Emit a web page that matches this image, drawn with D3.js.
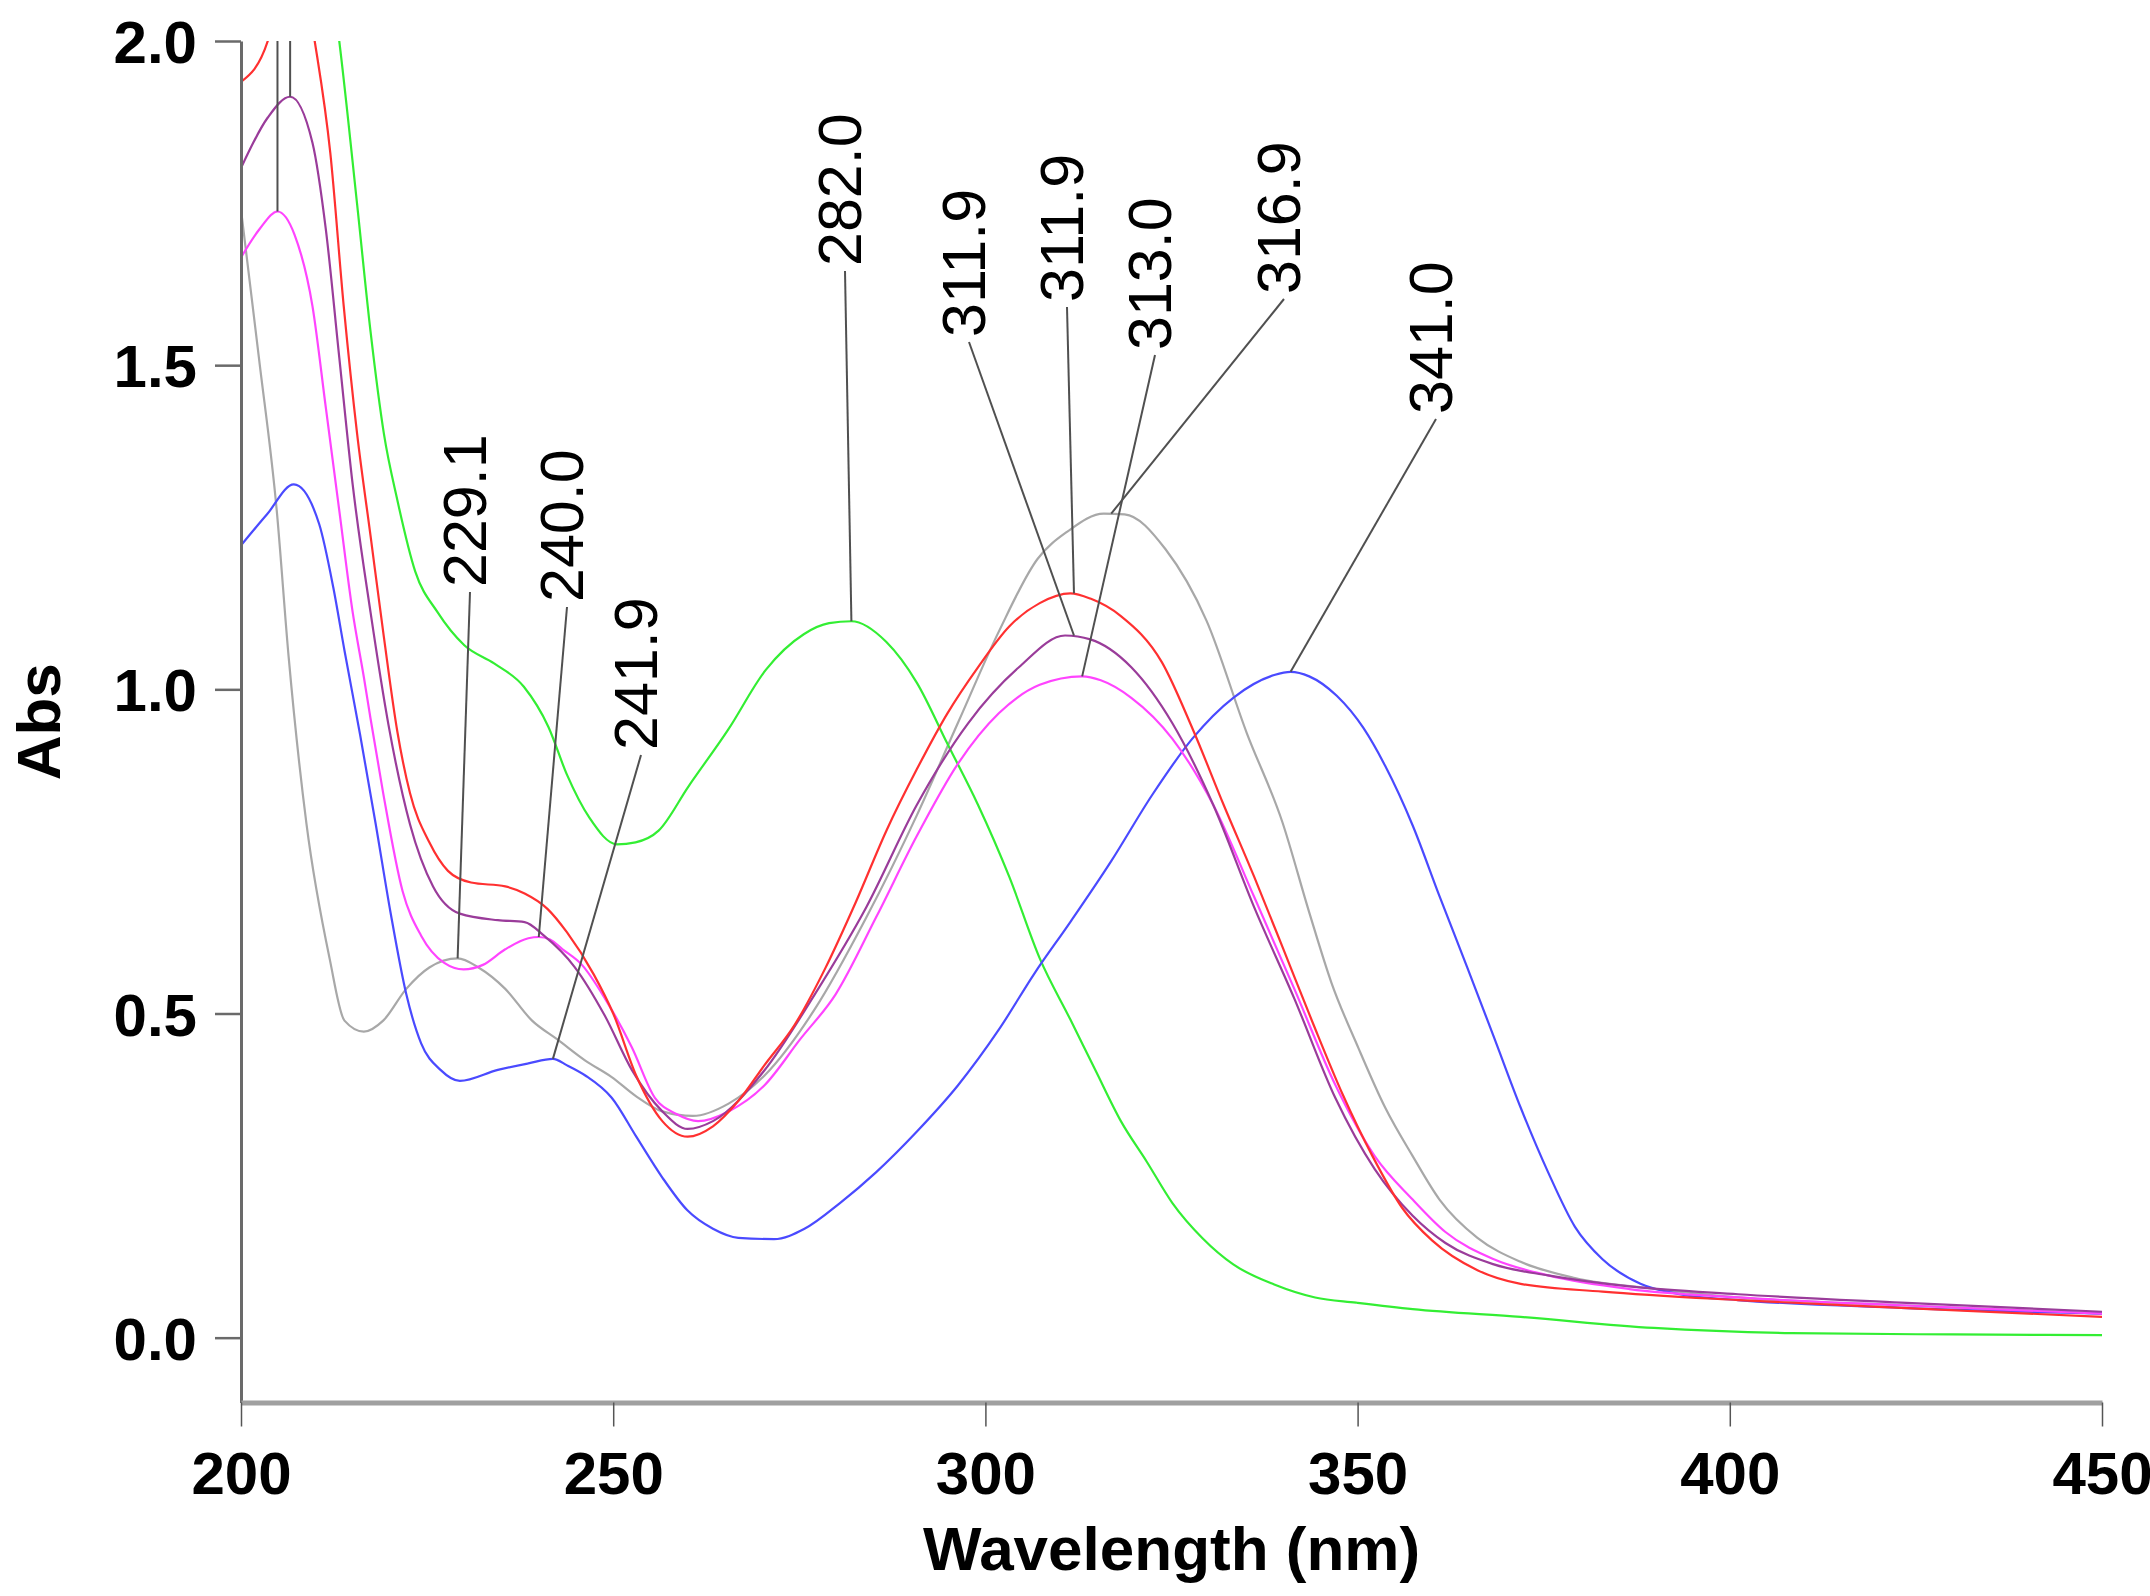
<!DOCTYPE html>
<html>
<head>
<meta charset="utf-8">
<script src="https://cdn.jsdelivr.net/npm/d3@7/dist/d3.min.js"></script>
<style>
body { margin: 0; background: #fff; }
svg { display: block; font-family: "Liberation Sans", Arial, sans-serif; }
.axis text { font-weight: bold; font-size: 60px; fill: #000; }
.title { font-weight: bold; font-size: 62px; fill: #000; }
.peak { font-size: 61px; fill: #000; }
</style>
</head>
<body>
<script>
// wavelength (nm) / absorbance pairs
var grayNm  = [200, 202.4, 204.8, 206.4, 208.8, 211.9, 213.9, 216.5, 219.1, 222.2, 225.3, 229.1, 231.9, 235.5, 239.1, 242.5, 246.3, 249.8, 253.0, 256.6, 260.7, 265.5, 270.3, 277.1, 284.0, 290.8, 296.3, 301.8, 307.0, 311.1, 315.9, 318.7, 324.2, 329.7, 335.1, 339.9, 343.5, 346.5, 350.1, 353.7, 357.4, 361.0, 366.1, 371.9, 379.2, 390.2, 401.1, 423.0, 450];
var grayAbs = [1.74, 1.512, 1.276, 1.05, 0.792, 0.585, 0.489, 0.472, 0.489, 0.538, 0.571, 0.585, 0.571, 0.538, 0.489, 0.460, 0.427, 0.402, 0.373, 0.349, 0.342, 0.361, 0.404, 0.507, 0.648, 0.806, 0.948, 1.089, 1.201, 1.244, 1.271, 1.270, 1.216, 1.106, 0.933, 0.795, 0.656, 0.547, 0.447, 0.355, 0.280, 0.213, 0.154, 0.117, 0.092, 0.075, 0.062, 0.050, 0.037];

var greenNm  = [200, 206, 210, 213.2, 215.6, 217.4, 219.2, 221.0, 223.4, 226.4, 230.0, 234.0, 238.0, 241.3, 243.8, 246.8, 250.5, 253.0, 256.1, 260.1, 265.4, 270.5, 275.6, 279.0, 282.0, 286.7, 290.8, 294.9, 299.0, 303.2, 307.3, 311.4, 314.8, 318.2, 321.7, 325.1, 329.2, 333.3, 338.8, 344.3, 349.8, 357.4, 371.9, 389.8, 408.3, 430.0, 450];
var greenAbs = [2.9, 2.55, 2.25, 2.0, 1.748, 1.552, 1.394, 1.292, 1.182, 1.119, 1.068, 1.040, 1.004, 0.942, 0.868, 0.802, 0.761, 0.764, 0.782, 0.850, 0.937, 1.030, 1.085, 1.102, 1.105, 1.073, 1.010, 0.916, 0.822, 0.711, 0.585, 0.491, 0.412, 0.334, 0.271, 0.208, 0.153, 0.113, 0.082, 0.062, 0.054, 0.044, 0.032, 0.015, 0.007, 0.005, 0.004];

var blueNm  = [200, 203.5, 207.1, 210.5, 212.4, 213.9, 216.0, 218.1, 220.1, 222.2, 224.2, 226.8, 229.4, 234.5, 238.6, 241.9, 243.8, 246.3, 249.8, 253.1, 256.6, 260.0, 263.4, 266.8, 271.6, 275.7, 280.5, 285.3, 290.8, 296.3, 301.8, 306.6, 311.4, 316.9, 322.4, 327.8, 333.3, 338.8, 341.0, 343.5, 347.2, 350.8, 353.7, 357.4, 361.0, 364.7, 368.3, 371.9, 375.6, 379.2, 382.9, 388.0, 393.8, 401.1, 423.0, 450];
var blueAbs = [1.222, 1.27, 1.316, 1.255, 1.157, 1.06, 0.93, 0.792, 0.655, 0.530, 0.454, 0.413, 0.396, 0.413, 0.423, 0.430, 0.420, 0.404, 0.370, 0.310, 0.247, 0.196, 0.168, 0.154, 0.152, 0.168, 0.208, 0.255, 0.318, 0.389, 0.475, 0.562, 0.641, 0.735, 0.837, 0.924, 0.987, 1.022, 1.027, 1.020, 0.990, 0.940, 0.882, 0.790, 0.681, 0.572, 0.464, 0.355, 0.255, 0.171, 0.121, 0.083, 0.066, 0.058, 0.046, 0.037];

var magentaNm  = [200, 202.5, 204.9, 207.2, 209.6, 211.4, 213.2, 215.0, 216.5, 217.4, 219.1, 221.7, 224.2, 227.3, 229.9, 232.5, 235.5, 238.6, 240.0, 241.5, 243.2, 245.8, 248.9, 252.5, 255.6, 258.5, 261.4, 265.5, 270.3, 275.1, 279.9, 285.3, 290.8, 296.3, 301.8, 307.3, 313.0, 315.5, 319.6, 325.1, 330.6, 336.1, 341.5, 347.0, 352.3, 357.4, 361.8, 368.3, 375.6, 386.5, 401.1, 423.0, 450];
var magentaAbs = [1.666, 1.71, 1.737, 1.701, 1.591, 1.434, 1.276, 1.119, 1.019, 0.955, 0.840, 0.689, 0.620, 0.578, 0.568, 0.575, 0.599, 0.616, 0.618, 0.614, 0.599, 0.575, 0.523, 0.448, 0.370, 0.345, 0.334, 0.349, 0.389, 0.460, 0.530, 0.648, 0.774, 0.885, 0.963, 1.007, 1.020, 1.014, 0.987, 0.924, 0.822, 0.680, 0.538, 0.390, 0.280, 0.213, 0.163, 0.121, 0.096, 0.075, 0.062, 0.050, 0.037];

var purpleNm  = [200, 203.6, 206.6, 209.6, 211.4, 213.2, 215.0, 217.4, 219.8, 222.7, 225.8, 229.4, 234.5, 238.1, 240.7, 244.8, 248.9, 252.5, 256.6, 260.0, 263.4, 270.3, 277.1, 284.0, 290.8, 297.7, 304.5, 310.7, 314.1, 319.6, 325.1, 330.6, 336.1, 341.5, 347.0, 352.3, 357.4, 361.8, 368.3, 375.6, 386.5, 401.1, 423.0, 450];
var purpleAbs = [1.804, 1.882, 1.914, 1.843, 1.709, 1.512, 1.316, 1.119, 0.946, 0.792, 0.696, 0.654, 0.644, 0.641, 0.620, 0.572, 0.496, 0.413, 0.349, 0.322, 0.334, 0.412, 0.530, 0.664, 0.822, 0.948, 1.034, 1.083, 1.077, 1.034, 0.948, 0.822, 0.664, 0.523, 0.370, 0.260, 0.188, 0.146, 0.113, 0.096, 0.079, 0.067, 0.054, 0.040];

var redNm  = [200, 203.6, 206.5, 209.9, 212.0, 213.8, 215.6, 217.4, 219.2, 221.0, 222.7, 225.3, 227.8, 230.9, 235.5, 238.1, 241.2, 243.8, 247.4, 250.0, 253.1, 256.6, 260.0, 263.4, 266.8, 270.3, 274.4, 278.5, 282.6, 286.7, 290.8, 294.9, 299.0, 303.2, 307.3, 311.4, 314.1, 318.2, 323.7, 327.8, 332.0, 336.1, 340.0, 344.0, 348.0, 352.0, 356.0, 360.0, 366.1, 371.9, 382.9, 401.1, 423.0, 450];
var redAbs = [1.937, 2.0, 2.2, 2.0, 1.827, 1.591, 1.394, 1.237, 1.080, 0.935, 0.840, 0.764, 0.720, 0.702, 0.696, 0.685, 0.661, 0.625, 0.560, 0.500, 0.404, 0.334, 0.310, 0.326, 0.365, 0.420, 0.483, 0.570, 0.672, 0.782, 0.877, 0.963, 1.034, 1.097, 1.133, 1.148, 1.140, 1.113, 1.042, 0.940, 0.822, 0.711, 0.600, 0.485, 0.375, 0.280, 0.200, 0.150, 0.104, 0.083, 0.071, 0.058, 0.046, 0.032];

var seriesNames  = ['gray', 'green', 'blue', 'magenta', 'purple', 'red'];
var seriesColors = ['#a8a8a8', '#33ee33', '#4a4aff', '#ff44ff', '#9a3c9a', '#ff3030'];

// labelled peaks (the last two have their labels above the frame, only the leader shows)
var peakNm  = [229.1, 240.0, 241.9, 282.0, 311.9, 311.9, 313.0, 316.9, 341.0, 204.9, 206.6];
var peakAbs = [0.585, 0.618, 0.430, 1.105, 1.083, 1.148, 1.020, 1.271, 1.027, 1.737, 1.914];

var xTicks = [200, 250, 300, 350, 400, 450];
var yTicks = [0.0, 0.5, 1.0, 1.5, 2.0];

var WIDTH = 2150;
var HEIGHT = 1596;
var LEFT = 241, RIGHT = 2102, TOP = 41, BOTTOM = 1402.5;

// label boxes on screen (x centre, bottom end)
var labelX      = [465, 562, 636, 840, 964, 1062, 1150, 1279, 1431];
var labelBottom = [587, 602, 750, 266, 337, 302, 350, 294, 414];

var translate = function (x, y) {
    return "translate(" + x + "," + y + ")";
};

var xScale = d3.scaleLinear()
    .domain([200, 450])
    .range([LEFT, RIGHT]);

var yScale = d3.scaleLinear()
    .domain([-0.1, 2.0])
    .range([BOTTOM, TOP]);

var line = d3.line()
    .x(function (d) { return xScale(d[0]); })
    .y(function (d) { return yScale(d[1]); })
    .curve(d3.curveMonotoneX);

var createChart = function () {
    var series = [
        d3.zip(grayNm, grayAbs),
        d3.zip(greenNm, greenAbs),
        d3.zip(blueNm, blueAbs),
        d3.zip(magentaNm, magentaAbs),
        d3.zip(purpleNm, purpleAbs),
        d3.zip(redNm, redAbs)
    ];

    var svg = d3.select('body').append('svg')
        .attr('width', WIDTH)
        .attr('height', HEIGHT);

    svg.append('defs').append('clipPath')
        .attr('id', 'plot')
        .append('rect')
        .attr('x', LEFT)
        .attr('y', TOP)
        .attr('width', RIGHT - LEFT)
        .attr('height', BOTTOM - TOP);

    var plot = svg.append('g').attr('clip-path', 'url(#plot)');

    plot.selectAll('path.spec')
        .data(series)
        .enter()
        .append('path')
        .attr('class', 'spec')
        .attr('d', line)
        .attr('fill', 'none')
        .attr('stroke', function (d, i) { return seriesColors[i]; })
        .attr('stroke-width', 2.2);

    // leader lines from peak labels to the peaks
    plot.selectAll('line.leader')
        .data(peakNm)
        .enter()
        .append('line')
        .attr('class', 'leader')
        .attr('x1', function (d, i) { return i < labelX.length ? labelX[i] + 5 : xScale(d); })
        .attr('y1', function (d, i) { return i < labelX.length ? labelBottom[i] + 5 : 0; })
        .attr('x2', function (d) { return xScale(d); })
        .attr('y2', function (d, i) { return yScale(peakAbs[i]); })
        .attr('stroke', '#505050')
        .attr('stroke-width', 2);

    svg.selectAll('text.peak')
        .data(peakNm.slice(0, labelX.length))
        .enter()
        .append('text')
        .attr('class', 'peak')
        .attr('transform', function (d, i) { return translate(labelX[i], labelBottom[i]) + " rotate(-90)"; })
        .attr('dy', '0.35em')
        .text(function (d) { return d3.format('.1f')(d); });

    var yAxis = d3.axisLeft(yScale)
        .tickValues(yTicks)
        .tickFormat(d3.format('.1f'))
        .tickSize(26)
        .tickSizeOuter(0)
        .tickPadding(18);

    var gy = svg.append('g')
        .attr('class', 'axis')
        .attr('transform', translate(LEFT, 0))
        .call(yAxis);
    gy.select('.domain').attr('stroke', '#6a6a6a').attr('stroke-width', 3);
    gy.selectAll('.tick line').attr('stroke', '#6a6a6a').attr('stroke-width', 2.5);
    gy.selectAll('.tick text').attr('dy', '0.36em');

    var xAxis = d3.axisBottom(xScale)
        .tickValues(xTicks)
        .tickSize(24)
        .tickSizeOuter(0)
        .tickPadding(25);

    var gx = svg.append('g')
        .attr('class', 'axis')
        .attr('transform', translate(0, BOTTOM))
        .call(xAxis);
    gx.select('.domain').attr('stroke', '#a0a0a0').attr('stroke-width', 5);
    gx.selectAll('.tick line').attr('stroke', '#555').attr('stroke-width', 1.5);

    svg.append('text')
        .attr('class', 'title')
        .attr('x', (LEFT + RIGHT) / 2)
        .attr('y', 1570)
        .attr('text-anchor', 'middle')
        .text('Wavelength (nm)');

    svg.append('text')
        .attr('class', 'title')
        .attr('transform', translate(60, (TOP + BOTTOM) / 2) + " rotate(-90)")
        .attr('text-anchor', 'middle')
        .text('Abs');
};

window.onload = createChart;
</script>
</body>
</html>
